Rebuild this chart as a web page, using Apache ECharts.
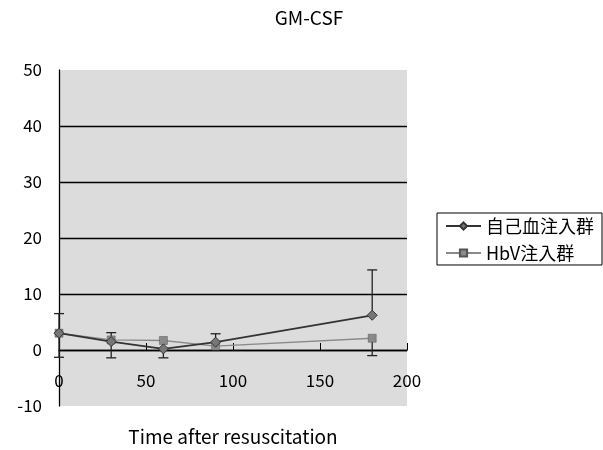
<!DOCTYPE html>
<html><head><meta charset="utf-8">
<script src="https://cdn.jsdelivr.net/npm/echarts@6/dist/echarts.min.js"></script>
<style>html,body{margin:0;padding:0;background:#fff}#c{width:603px;height:450px}</style>
</head><body><div id="c"></div>
<script>
const titleText = 'GM-CSF';
const xName = 'Time after resuscitation';
const seriesNames = ['自己血注入群', 'HbV注入群'];
const times = [0, 30, 60, 90, 180];
const autoBlood = [3.0, 1.5, 0.2, 1.4, 6.2];
const hbv = [3.0, 1.8, 1.7, 0.7, 2.1];
const autoLow = [-1.3, -1.4, -1.4, null, null];
const autoHigh = [6.5, 3.1, null, 2.9, 14.3];
const hbvLow = [null, null, null, null, -1.0];
const hbvHigh = [null, null, null, null, null];

const font = '"Noto Sans CJK JP", "Noto Sans", sans-serif';
const chart = echarts.init(document.getElementById('c'));

function errData(vals, lows, highs) {
  return times.map((t, i) => [t, vals[i], lows[i] == null ? vals[i] : lows[i], highs[i] == null ? vals[i] : highs[i], lows[i] != null ? 1 : 0, highs[i] != null ? 1 : 0]);
}
function renderErr(params, api) {
  const x = api.value(0), lo = api.value(2), hi = api.value(3);
  const hasLo = api.value(4), hasHi = api.value(5);
  const pLo = api.coord([x, lo]), pHi = api.coord([x, hi]);
  const st = { stroke: '#222', lineWidth: 1.3 };
  const children = [{ type: 'line', shape: { x1: pLo[0], y1: pLo[1], x2: pHi[0], y2: pHi[1] }, style: st }];
  const w = 5;
  if (hasLo) children.push({ type: 'line', shape: { x1: pLo[0] - w, y1: pLo[1], x2: pLo[0] + w, y2: pLo[1] }, style: st });
  if (hasHi) children.push({ type: 'line', shape: { x1: pHi[0] - w, y1: pHi[1], x2: pHi[0] + w, y2: pHi[1] }, style: st });
  return { type: 'group', children };
}

chart.setOption({
  animation: false,
  backgroundColor: '#fff',
  title: { text: titleText, left: 304, textAlign: 'center', top: 3, textStyle: { fontFamily: font, fontSize: 19, fontWeight: 'normal', color: '#000' } },
  grid: { left: 59, right: 196, top: 70, bottom: 44, show: true, backgroundColor: '#dcdcdc', borderWidth: 0, outerBoundsMode: 'none', containLabel: false },
  legend: {
    orient: 'vertical', left: 437, top: 213,
    data: seriesNames,
    borderColor: '#000', borderWidth: 1, padding: [4, 8, 3, 8], itemGap: 9,
    itemWidth: 35, itemHeight: 9,
    textStyle: { fontFamily: font, fontSize: 18, color: '#000' }
  },
  xAxis: {
    type: 'value', min: 0, max: 200, interval: 50,
    name: xName, nameLocation: 'middle', nameGap: 21,
    nameTextStyle: { fontFamily: font, fontSize: 19, color: '#000' },
    axisLine: { onZero: true, lineStyle: { color: '#000', width: 1.3 } },
    axisTick: { inside: true, length: 7, lineStyle: { color: '#000' } },
    axisLabel: { margin: -34, fontFamily: font, fontSize: 17, color: '#000' },
    splitLine: { show: false }
  },
  yAxis: {
    type: 'value', min: -10, max: 50, interval: 10,
    axisLine: { show: true, lineStyle: { color: '#000', width: 1.3 } },
    axisTick: { show: false },
    axisLabel: { margin: 17, fontFamily: font, fontSize: 17, color: '#000' },
    splitLine: { show: true, lineStyle: { color: ['rgba(0,0,0,0)', '#000', '#000', '#000', '#000', '#000', 'rgba(0,0,0,0)'], width: 1.3 } }
  },
  series: [
    { type: 'custom', renderItem: renderErr, data: errData(autoBlood, autoLow, autoHigh), z: 3, silent: true },
    { type: 'custom', renderItem: renderErr, data: errData(hbv, hbvLow, hbvHigh), z: 3, silent: true },
    { name: seriesNames[1], type: 'line', data: times.map((t, i) => [t, hbv[i]]), symbol: 'rect', symbolSize: 8,
      lineStyle: { color: '#8a8a8a', width: 1.3 }, itemStyle: { color: '#8a8a8a', borderColor: '#555', borderWidth: 0.5 }, z: 4 },
    { name: seriesNames[0], type: 'line', data: times.map((t, i) => [t, autoBlood[i]]), symbol: 'diamond', symbolSize: 10,
      lineStyle: { color: '#333', width: 1.8 }, itemStyle: { color: '#777', borderColor: '#333', borderWidth: 1 }, z: 5 }
  ]
});
</script></body></html>
